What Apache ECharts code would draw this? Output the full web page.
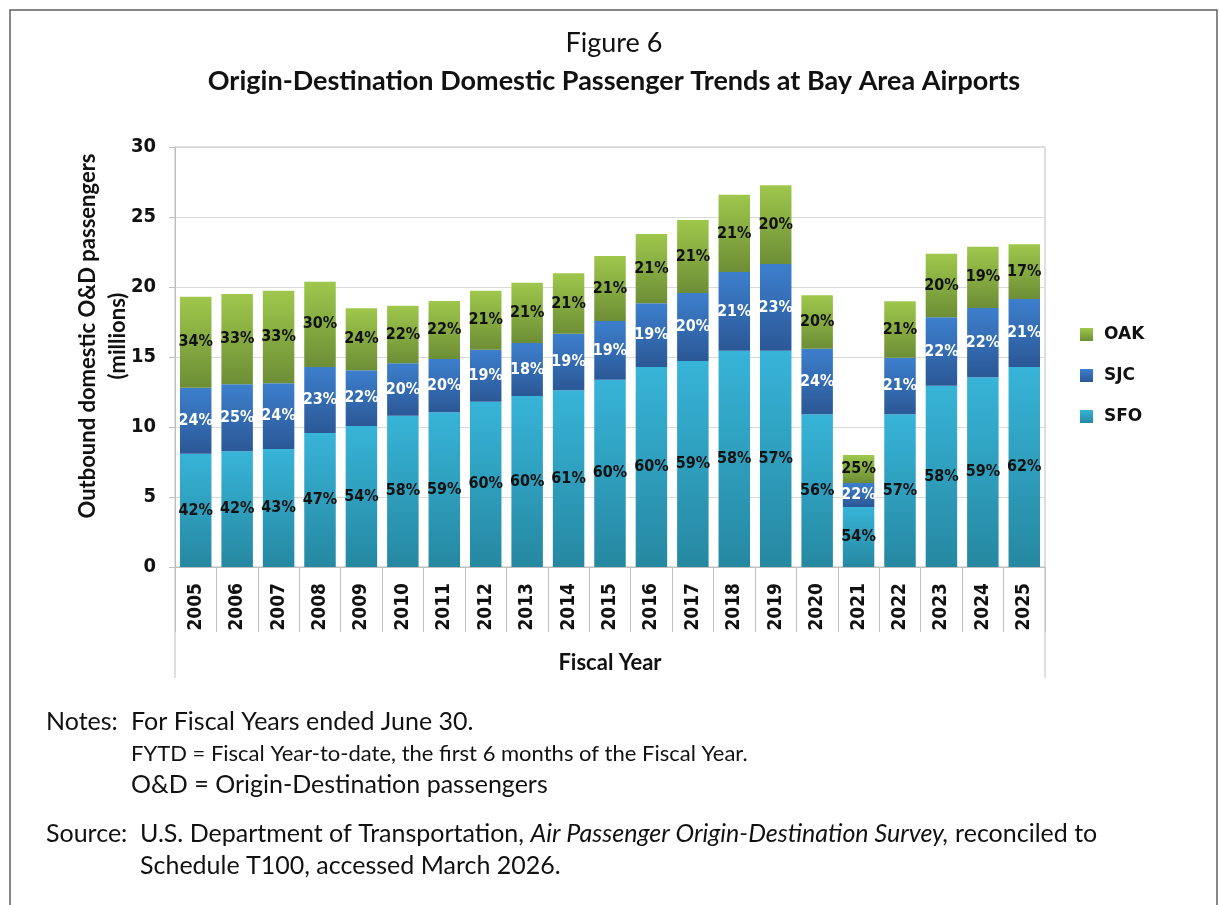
<!DOCTYPE html>
<html>
<head>
<meta charset="utf-8">
<title>Figure 6</title>
<script src="https://cdn.jsdelivr.net/npm/echarts@6/dist/echarts.min.js"></script>
<style>
  html, body { margin: 0; padding: 0; background: #fff; }
  #chart { width: 1220px; height: 905px; }
</style>
</head>
<body>
<div id="chart"></div>
<script>
// fiscal years on the category axis
const years = ['2005', '2006', '2007', '2008', '2009', '2010', '2011', '2012', '2013', '2014',
  '2015', '2016', '2017', '2018', '2019', '2020', '2021', '2022', '2023', '2024', '2025'];

// outbound domestic O&D passengers, millions
const sfo = [8.09, 8.26, 8.43, 9.57, 10.07, 10.81, 11.05, 11.81, 12.21, 12.62,
  13.38, 14.29, 14.71, 15.45, 15.45, 10.91, 4.29, 10.91, 12.95, 13.55, 14.29];
const sjc = [4.72, 4.79, 4.69, 4.72, 3.98, 3.74, 3.81, 3.71, 3.79, 4.04,
  4.19, 4.55, 4.86, 5.62, 6.19, 4.68, 1.71, 4.04, 4.89, 4.95, 4.85];
const oak = [6.50, 6.45, 6.62, 6.09, 4.43, 4.11, 4.14, 4.22, 4.31, 4.32,
  4.64, 4.95, 5.22, 5.52, 5.62, 3.82, 2.00, 4.03, 4.54, 4.38, 3.91];

// share labels printed on the bars
const sfoPct = [42, 42, 43, 47, 54, 58, 59, 60, 60, 61, 60, 60, 59, 58, 57, 56, 54, 57, 58, 59, 62];
const sjcPct = [24, 25, 24, 23, 22, 20, 20, 19, 18, 19, 19, 19, 20, 21, 23, 24, 22, 21, 22, 22, 21];
const oakPct = [34, 33, 33, 30, 24, 22, 22, 21, 21, 21, 21, 21, 21, 21, 20, 20, 25, 21, 20, 19, 17];

const LABEL_FONT = '"DejaVu Sans Condensed", "DejaVu Sans", sans-serif';
const TEXT_FONT = 'Lato, "Noto Sans", sans-serif';
const GRID = { left: 175, right: 175, top: 147, bottom: 338 };
const BORDER = '#bfbfbf';

function grad(top, bottom) {
  return new echarts.graphic.LinearGradient(0, 0, 0, 1, [
    { offset: 0, color: top },
    { offset: 1, color: bottom }
  ]);
}

function barSeries(name, data, pct, colors, labelColor) {
  return {
    name: name,
    type: 'bar',
    stack: 'total',
    data: data,
    barCategoryGap: '24%',
    itemStyle: { color: grad(colors[0], colors[1]) },
    label: {
      show: true,
      position: 'inside',
      formatter: p => pct[p.dataIndex] + '%',
      color: labelColor,
      fontFamily: LABEL_FONT,
      fontWeight: 'bold',
      fontSize: 16
    },
    emphasis: { disabled: true }
  };
}

const chart = echarts.init(document.getElementById('chart'));

const plotBottom = 905 - GRID.bottom;
const plotRight = 1220 - GRID.right;

chart.setOption({
  animation: false,
  textStyle: { fontFamily: TEXT_FONT },
  grid: {
    left: GRID.left, right: GRID.right, top: GRID.top, bottom: GRID.bottom,
    show: true, borderColor: BORDER, borderWidth: 1
  },
  legend: {
    data: ['OAK', 'SJC', 'SFO'],
    orient: 'vertical',
    left: 1075,
    top: 321,
    icon: 'rect',
    itemWidth: 13,
    itemHeight: 13,
    itemGap: 24,
    selectedMode: false,
    textStyle: { fontFamily: '"DejaVu Sans", sans-serif', fontWeight: 'bold', fontSize: 17, color: '#111', padding: [0, 0, 0, 6] }
  },
  xAxis: {
    type: 'category',
    data: years,
    axisLine: { lineStyle: { color: BORDER, width: 1 } },
    axisTick: { show: true, interval: 0, length: 65, lineStyle: { color: BORDER } },
    axisLabel: {
      interval: 0,
      rotate: 90,
      margin: 16,
      color: '#111',
      fontFamily: LABEL_FONT,
      fontWeight: 'bold',
      fontSize: 19
    }
  },
  yAxis: {
    type: 'value',
    min: 0,
    max: 30,
    interval: 5,
    axisLine: { show: true, lineStyle: { color: BORDER } },
    axisTick: { show: true, length: 6, lineStyle: { color: BORDER } },
    splitLine: { lineStyle: { color: '#d9d9d9' } },
    axisLabel: {
      margin: 19,
      color: '#111',
      fontFamily: LABEL_FONT,
      fontWeight: 'bold',
      fontSize: 20
    }
  },
  series: [
    barSeries('SFO', sfo, sfoPct, ['#37b4d8', '#2688a1'], '#111'),
    barSeries('SJC', sjc, sjcPct, ['#3d7fcd', '#2b5896'], '#fff'),
    barSeries('OAK', oak, oakPct, ['#9fc74c', '#6d8e36'], '#111')
  ],
  graphic: [
    // outer frame
    { type: 'rect', shape: { x: 10, y: 10, width: 1207, height: 920 }, style: { fill: 'none', stroke: '#606060', lineWidth: 1.5 }, silent: true },
    // plot box sides run down past the year labels
    { type: 'line', shape: { x1: GRID.left, y1: plotBottom, x2: GRID.left, y2: 678 }, style: { stroke: BORDER, lineWidth: 1 }, silent: true },
    { type: 'line', shape: { x1: plotRight, y1: plotBottom, x2: plotRight, y2: 678 }, style: { stroke: BORDER, lineWidth: 1 }, silent: true },
    { type: 'text', x: 614, y: 43, style: { text: 'Figure 6', fontFamily: TEXT_FONT, fontSize: 27, align: 'center', verticalAlign: 'middle', fill: '#111' } },
    { type: 'text', x: 614, y: 81, style: { text: 'Origin-Destination Domestic Passenger Trends at Bay Area Airports', fontFamily: TEXT_FONT, fontWeight: 'bold', fontSize: 27, align: 'center', verticalAlign: 'middle', fill: '#111' } },
    {
      type: 'text', x: 103, y: 336, rotation: Math.PI / 2,
      style: {
        text: 'Outbound domestic O&D passengers\n(millions)',
        fontFamily: TEXT_FONT, fontWeight: 'bold', fontSize: 22, lineHeight: 30,
        align: 'center', verticalAlign: 'middle', fill: '#111'
      }
    },
    { type: 'text', x: 610, y: 663, style: { text: 'Fiscal Year', fontFamily: TEXT_FONT, fontWeight: 'bold', fontSize: 22, align: 'center', verticalAlign: 'middle', fill: '#111' } },
    { type: 'text', x: 46, y: 722, style: { text: 'Notes:', fontFamily: TEXT_FONT, fontSize: 25, verticalAlign: 'middle', fill: '#111' } },
    { type: 'text', x: 131, y: 722, style: { text: 'For Fiscal Years ended June 30.', fontFamily: TEXT_FONT, fontSize: 25, verticalAlign: 'middle', fill: '#111' } },
    { type: 'text', x: 131, y: 754, style: { text: 'FYTD = Fiscal Year-to-date, the first 6 months of the Fiscal Year.', fontFamily: TEXT_FONT, fontSize: 22, verticalAlign: 'middle', fill: '#111' } },
    { type: 'text', x: 131, y: 785, style: { text: 'O&D = Origin-Destination passengers', fontFamily: TEXT_FONT, fontSize: 25, verticalAlign: 'middle', fill: '#111' } },
    { type: 'text', x: 46, y: 834, style: { text: 'Source:', fontFamily: TEXT_FONT, fontSize: 25, verticalAlign: 'middle', fill: '#111' } },
    {
      type: 'text', x: 140, y: 834,
      style: {
        text: '{n|U.S. Department of Transportation, }{i|Air Passenger Origin-Destination Survey,}{n| reconciled to}',
        verticalAlign: 'middle',
        rich: {
          n: { fontFamily: TEXT_FONT, fontSize: 25, fill: '#111' },
          i: { fontFamily: TEXT_FONT, fontSize: 25, fontStyle: 'italic', fill: '#111' }
        }
      }
    },
    { type: 'text', x: 140, y: 866, style: { text: 'Schedule T100, accessed March 2026.', fontFamily: TEXT_FONT, fontSize: 25, verticalAlign: 'middle', fill: '#111' } }
  ]
});
</script>
</body>
</html>
